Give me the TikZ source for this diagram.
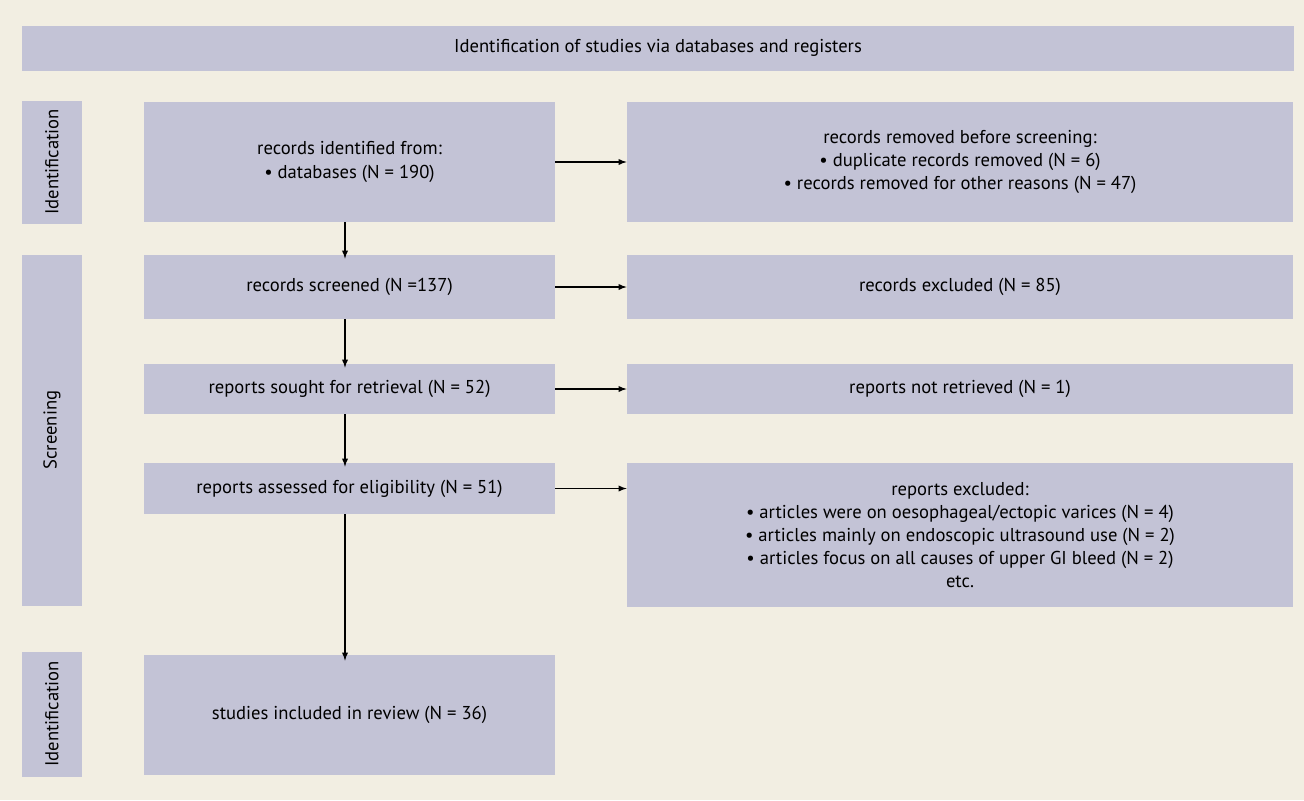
\documentclass[tikz,border=0pt]{standalone}
\usepackage{fontspec}
\setmainfont{PT Sans}
\usepackage{xcolor}
\usetikzlibrary{arrows,positioning,calc}
\definecolor{paper}{HTML}{F2EEE2}
\definecolor{boxfill}{HTML}{C3C3D6}
\tikzset{
  panel/.style={fill=boxfill, draw=none, align=center, inner sep=0pt, font=\fontsize{10.6}{13.2}\selectfont},
  flow/.style={-latex, semithick},
}
\begin{document}
\begin{tikzpicture}[x=0.2mm,y=-0.2mm]
  \fill[paper] (0,0) rectangle (1304,800);
  \useasboundingbox (0,0) rectangle (1304,800);

  % banner and stage bars
  \fill[boxfill] (22,26) rectangle (1294,71);
  \node[font=\fontsize{10.6}{13}\selectfont] (title) at (658,48) {Identification of studies via databases and registers};
  \fill[boxfill] (22,101) rectangle (82,224);
  \node[rotate=90] (id1) at (52,162) {\fontsize{10.6}{13}\selectfont Identification};
  \fill[boxfill] (22,255) rectangle (82,606);
  \node[rotate=90] (scr) at (52,430) {\fontsize{10.6}{13}\selectfont Screening};
  \fill[boxfill] (22,652) rectangle (82,777);
  \node[rotate=90] (id2) at (52,714) {\fontsize{10.6}{13}\selectfont Identification};

  % left column
  \node[panel, minimum width=82.2mm, minimum height=24mm] (found) at (349.5,162)
    {records identified from:\\ • databases (N = 190)};
  \node[panel, minimum width=82.2mm, minimum height=12.8mm] (screened) at (349.5,287)
    {records screened (N =137)};
  \node[panel, minimum width=82.2mm, minimum height=10mm] (sought) at (349.5,389)
    {reports sought for retrieval (N = 52)};
  \node[panel, minimum width=82.2mm, minimum height=10.2mm] (assessed) at (349.5,488.5)
    {reports assessed for eligibility (N = 51)};
  \node[panel, minimum width=82.2mm, minimum height=24mm] (included) at (349.5,715)
    {studies included in review (N = 36)};

  % right column
  \node[panel, minimum width=133.2mm, minimum height=24mm] (removed) at (960,162)
    {records removed before screening:\\ • duplicate records removed (N = 6)\\ • records removed for other reasons (N = 47)};
  \node[panel, minimum width=133.2mm, minimum height=12.8mm] (excluded) at (960,287)
    {records excluded (N = 85)};
  \node[panel, minimum width=133.2mm, minimum height=10mm] (notret) at (960,389)
    {reports not retrieved (N = 1)};
  \node[panel, minimum width=133.2mm, minimum height=28.8mm] (repexcl) at (960,535)
    {reports excluded:\\ • articles were on oesophageal/ectopic varices (N = 4)\\
     • articles mainly on endoscopic ultrasound use (N = 2)\\
     • articles focus on all causes of upper GI bleed (N = 2)\\ etc.};

  % connectors
  \draw[flow] (found.east) -- (removed.west);
  \draw[flow] (screened.east) -- (excluded.west);
  \draw[flow] (sought.east) -- (notret.west);
  \draw[flow] (assessed.east) -- (repexcl.west |- assessed.east);
  \draw[flow] (found.south -| 345,0) -- ([yshift=-0.8mm]screened.north -| 345,0);
  \draw[flow] (screened.south -| 345,0) -- ([yshift=-0.8mm]sought.north -| 345,0);
  \draw[flow] (sought.south -| 345,0) -- ([yshift=-0.8mm]assessed.north -| 345,0);
  \draw[flow] (assessed.south -| 345,0) -- ([yshift=-1.2mm]included.north -| 345,0);
\end{tikzpicture}
\end{document}
